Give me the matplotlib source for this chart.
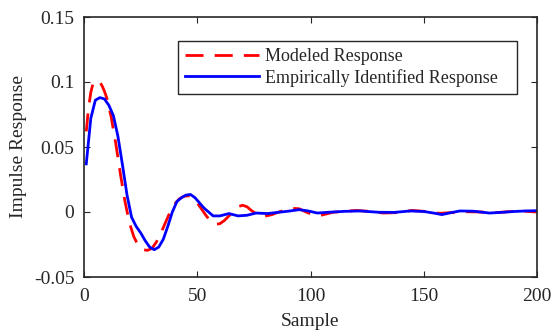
"""Impulse response: modeled vs empirically identified."""
import matplotlib
matplotlib.use("Agg")
import matplotlib.pyplot as plt

# points
blue_x = [1, 3, 5, 7, 9, 11, 13, 15, 17, 19, 21, 23, 25, 27, 29, 31, 33, 35, 37, 39,
          41, 43, 45, 47, 49, 51, 53, 55, 57, 60, 64, 68, 72, 76, 81, 87, 91, 95, 99,
          103, 108, 115, 122, 130, 137, 144, 150, 155, 158, 162, 166, 172, 179, 185,
          190, 195, 200]
blue_y = [0.037, 0.072, 0.086, 0.088, 0.087, 0.082, 0.074, 0.058, 0.036, 0.013, -0.004,
          -0.011, -0.016, -0.022, -0.027, -0.029, -0.027, -0.021, -0.011, 0.000,
          0.008, 0.011, 0.013, 0.0135, 0.011, 0.007, 0.003, 0.000, -0.003, -0.003,
          -0.0012, -0.003, -0.0025, -0.0008, -0.0012, 0.0000, 0.0008, 0.0018, 0.0008,
          -0.0008, -0.0002, 0.0005, 0.0008, -0.0002, -0.0003, 0.0008, 0.0004, -0.001,
          -0.002, -0.0005, 0.0008, 0.0006, -0.0008, -0.0002, 0.0004, 0.0008, 0.001]

red_x = [1, 2, 3, 4, 5, 6, 7, 8, 9, 10, 12, 14, 16, 18, 20, 22, 24, 26, 28, 30, 32, 34,
         36, 38, 40, 42, 44, 46, 48, 50, 52, 54, 56, 58, 60, 62, 64, 66, 68, 70, 72, 74,
         76, 78, 80, 83, 86, 89, 92, 95, 98, 101, 104, 107, 110, 115, 120, 126, 132,
         138, 145, 151, 157, 163, 169, 175, 181, 187, 193, 200]
red_y = [0.062, 0.080, 0.092, 0.099, 0.101, 0.101, 0.100, 0.097, 0.093, 0.088, 0.073,
         0.053, 0.030, 0.009, -0.008, -0.019, -0.026, -0.029, -0.0295, -0.028,
         -0.023, -0.016, -0.008, 0.000, 0.006, 0.010, 0.012, 0.0125, 0.011, 0.007,
         0.002, -0.003, -0.0075, -0.0095, -0.009, -0.0065, -0.003, 0.0005, 0.004,
         0.0052, 0.004, 0.001, -0.0012, -0.003, -0.0032, -0.002, 0.000, 0.0015,
         0.0028, 0.0025, 0.000, -0.002, -0.0028, -0.0015, -0.0002, 0.0005, 0.0012,
         0.0005, -0.0008, -0.0005, 0.0012, 0.0004, -0.001, -0.0004, 0.0002, 0.0000,
         -0.0006, 0.0002, 0.0008, 0.0000]

plt.rcParams["font.family"] = ["Liberation Serif", "DejaVu Serif"]
plt.rcParams["font.size"] = 14
plt.rcParams["text.color"] = "#262626"
plt.rcParams["axes.labelcolor"] = "#262626"

fig = plt.figure(figsize=(5.54, 3.36), dpi=100)
ax = fig.add_axes([84 / 554, 1 - 277 / 336, 453 / 554, 260 / 336])

ax.plot(red_x, red_y, color="#ff0000", ls=(0, (6.5, 4)), lw=2, label="Modeled Response")
ax.plot(blue_x, blue_y, color="#0000ff", lw=2, label="Empirically Identified Response")

ax.set_xlim(0, 200)
ax.set_ylim(-0.05, 0.15)
ax.set_xticks([0, 50, 100, 150, 200])
ax.set_yticks([-0.05, 0, 0.05, 0.1, 0.15])
ax.set_yticklabels(["-0.05", "0", "0.05", "0.1", "0.15"])
ax.tick_params(axis="both", direction="in", top=True, right=True, length=4, width=0.8,
               color="#262626", labelcolor="#262626", labelsize=14)
ax.tick_params(axis="x", pad=8)
ax.tick_params(axis="y", pad=7)
for sp in ax.spines.values():
    sp.set_linewidth(1.2)
    sp.set_color("#262626")
ax.set_xlabel("Sample", labelpad=6)
ax.set_ylabel("Impulse Response", labelpad=5)

leg = ax.legend(loc="upper left", bbox_to_anchor=(0.2075, 0.7, 0.748, 0.2077),
                mode="expand", fontsize=13, handlelength=4.1, handletextpad=0.3,
                borderpad=0.4, labelspacing=0.2, fancybox=False, framealpha=1,
                edgecolor="#262626", borderaxespad=0)
leg.get_frame().set_linewidth(1.0)

fig.savefig("out.png", dpi=100)
